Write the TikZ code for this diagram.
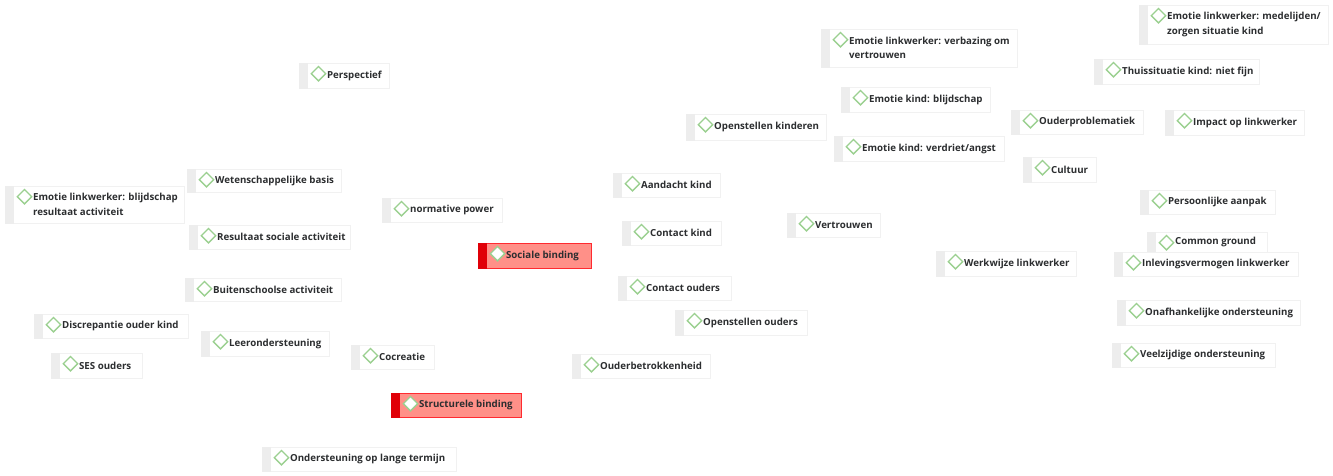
\documentclass[tikz,border=0pt]{standalone}
\usepackage{fontspec}
\setmainfont{Open Sans}
\usetikzlibrary{shapes.geometric}
\definecolor{codegreen}{HTML}{9BD090}
\definecolor{codeedge}{HTML}{F1F1F1}
\definecolor{codebar}{HTML}{EDEDED}
\definecolor{hotfill}{HTML}{FF9088}
\definecolor{hotedge}{HTML}{FF2A30}
\definecolor{hotbar}{HTML}{E00008}
\definecolor{codeink}{HTML}{2C2E30}
\tikzset{
    plainbox/.style={draw=codeedge, fill=white, line width=0.6pt},
    plainbar/.style={fill=codebar},
    hotbox/.style={draw=hotedge, fill=hotfill, line width=0.9pt},
    hotbar/.style={fill=hotbar},
    codemark/.style={diamond, draw=codegreen, fill=white, line width=1pt, inner sep=0pt, minimum width=11.2pt, minimum height=11.2pt},
    codetext/.style={text=codeink, font=\bfseries\fontsize{7.28pt}{10.8pt}\selectfont, align=left, inner sep=0pt}
}
% name, left, top, right, bottom, text
\newcommand{\codenode}[7][plain]{
    \node[#1box, inner sep=0pt, anchor=north west, minimum width={(#5-#3)*0.75pt}, minimum height={(#6-#4)*0.75pt}] (#2) at (#3,#4) {};
    \fill[#1bar] (#2.north west) rectangle ([xshift=7pt]#2.south west);
    \node[codemark] (#2mark) at ([xshift=14.6pt,yshift=-8pt]#2.north west) {};
    \node[codetext, anchor=west] (#2text) at ([xshift=20.9pt,yshift=0.3pt]#2.west) {#7};
}
\begin{document}
\begin{tikzpicture}[x=0.75pt,y=-0.75pt]
        \useasboundingbox (0,0) rectangle (1333,475);

        \codenode{medelijden}{1139}{5}{1328}{44}{Emotie linkwerker: medelijden/\\zorgen situatie kind}
        \codenode{verbazing}{821}{29}{1017}{67}{Emotie linkwerker: verbazing om\\vertrouwen}
        \codenode{perspectief}{299}{63}{389}{88}{Perspectief}
        \codenode{thuissituatie}{1094}{59}{1259}{84}{Thuissituatie kind: niet fijn}
        \codenode{blijdschap}{841}{87}{990}{112}{Emotie kind: blijdschap}
        \codenode{openkinderen}{686}{114}{826}{140}{Openstellen kinderen}
        \codenode{ouderproblemen}{1011}{110}{1143}{134}{Ouderproblematiek}
        \codenode{impact}{1165}{110}{1304}{135}{Impact op linkwerker}
        \codenode{verdriet}{834}{136}{1004}{161}{Emotie kind: verdriet/angst}
        \codenode{cultuur}{1023}{157}{1096}{182}{Cultuur}

        \codenode{basis}{187}{169}{341}{192}{Wetenschappelijke basis}
        \codenode{aandacht}{613}{173}{720}{197}{Aandacht kind}
        \codenode{resultaat}{5}{186}{184}{223}{Emotie linkwerker: blijdschap\\resultaat activiteit}
        \codenode{aanpak}{1140}{190}{1275}{214}{Persoonlijke aanpak}
        \codenode{normative}{382}{198}{502}{222}{normative power}
        \codenode{vertrouwen}{787}{213}{880}{237}{Vertrouwen}
        \codenode{sociaal}{189}{225}{350}{249}{Resultaat sociale activiteit}
        \codenode{contactkind}{622}{221}{721}{245}{Contact kind}
        \codenode{ground}{1147}{232}{1267}{252}{Common ground}
        \codenode[hot]{sociale}{478}{243}{591}{268}{Sociale binding}
        \codenode{werkwijze}{936}{251}{1076}{276}{Werkwijze linkwerker}
        \codenode{inleving}{1114}{252}{1298}{276}{Inlevingsvermogen linkwerker}

        \codenode{contactouders}{618}{276}{731}{300}{Contact ouders}
        \codenode{buiten}{185}{278}{341}{301}{Buitenschoolse activiteit}
        \codenode{onafhankelijk}{1117}{300}{1300}{325}{Onafhankelijke ondersteuning}
        \codenode{openouders}{675}{310}{807}{335}{Openstellen ouders}
        \codenode{discrepantie}{34}{314}{188}{338}{Discrepantie ouder kind}
        \codenode{leer}{201}{331}{329}{356}{Leerondersteuning}
        \codenode{veelzijdig}{1112}{343}{1275}{367}{Veelzijdige ondersteuning}
        \codenode{cocreatie}{351}{345}{434}{369}{Cocreatie}
        \codenode{ses}{51}{353}{142}{378}{SES ouders}
        \codenode{betrokken}{572}{354}{710}{378}{Ouderbetrokkenheid}
        \codenode[hot]{structureel}{391}{393}{521}{417}{Structurele binding}
        \codenode{termijn}{262}{447}{456}{471}{Ondersteuning op lange termijn}

\end{tikzpicture}
\end{document}
